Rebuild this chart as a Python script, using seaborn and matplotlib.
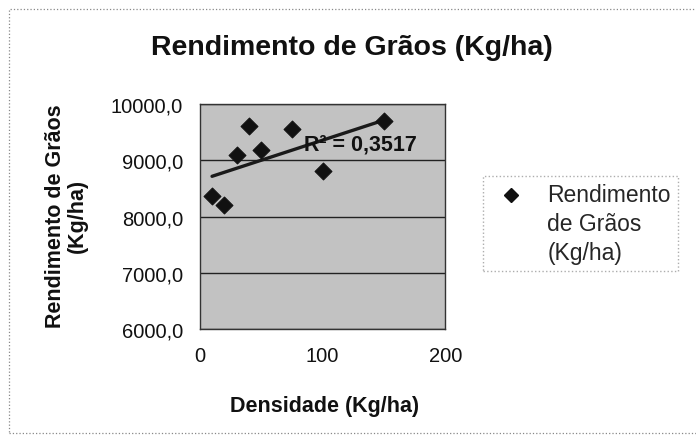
import numpy as np
import matplotlib
matplotlib.use("Agg")
import matplotlib.pyplot as plt
import seaborn as sns
from matplotlib.ticker import FuncFormatter
from matplotlib.lines import Line2D
from matplotlib.legend_handler import HandlerLine2D

sns.set_style("white")
plt.rcParams['font.family'] = ['Liberation Sans', 'DejaVu Sans']

# data
densidade = [10, 20, 30, 40, 50, 75, 100, 150]
rendimento = [8370, 8210, 9100, 9600, 9190, 9560, 8800, 9700]
r2_label = "R² = 0,3517"
serie = "Rendimento\nde Grãos\n(Kg/ha)"

fig = plt.figure(figsize=(6.96, 4.39), dpi=100)
ax = fig.add_axes([0.287, 0.248, 0.353, 0.513])
ax.set_facecolor("#c2c2c2")

# trend line (least squares)
coef = np.polyfit(densidade, rendimento, 1)
xs = np.array([min(densidade), max(densidade)])
ax.plot(xs, np.polyval(coef, xs), color="#1a1a1a", lw=2.4, zorder=3)

sns.scatterplot(x=densidade, y=rendimento, marker="D", s=75, color="#111111",
                edgecolor="#111111", ax=ax, zorder=4, legend=False)

ax.set_xlim(0, 200)
ax.set_ylim(6000, 10000)
ax.set_xticks([0, 100, 200])
ax.set_yticks([6000, 7000, 8000, 9000, 10000])
ax.yaxis.set_major_formatter(FuncFormatter(lambda v, p: f"{v:.1f}".replace(".", ",")))
ax.grid(axis="y", color="#222222", lw=1)
ax.set_axisbelow(True)
for s in ax.spines.values():
    s.set_color("#333333")
    s.set_linewidth(1)
ax.tick_params(labelsize=14.5, colors="#111111", length=0)
ax.tick_params(axis="y", pad=12)
ax.tick_params(axis="x", pad=12)

ax.text(85, 9290, r2_label, fontsize=15.5, fontweight="bold", color="#111111",
        va="center", ha="left", zorder=5)

fig.text(0.466, 0.073, "Densidade (Kg/ha)", fontsize=15.5, fontweight="bold",
         ha="center", va="center", color="#111111")
fig.text(0.096, 0.508, "Rendimento de Grãos\n(Kg/ha)", fontsize=15.5, fontweight="bold",
         rotation=90, ha="center", va="center", multialignment="center",
         linespacing=1.05, color="#111111")
fig.text(0.506, 0.89, "Rendimento de Grãos (Kg/ha)", fontsize=20.5, fontweight="bold",
         ha="center", va="center", color="#111111")


# legend marker sits next to the first line of the label
class TopMarker(HandlerLine2D):
    def create_artists(self, legend, orig_handle, xdescent, ydescent,
                       width, height, fontsize, trans):
        arts = super().create_artists(legend, orig_handle, xdescent, ydescent,
                                      width, height, fontsize, trans)
        for a in arts:
            a.set_ydata(np.asarray(a.get_ydata()) + fontsize * 1.3)
        return arts


handle = Line2D([], [], marker="D", ls="none", color="#111111", markersize=7.5)
leg = ax.legend([handle], [serie], loc="upper left",
                bbox_to_anchor=(483 / 696, 1 - 177 / 439),
                bbox_transform=fig.transFigure, borderaxespad=0, frameon=True,
                fontsize=16.5, handletextpad=0.7, borderpad=0.3, handlelength=1.8,
                handler_map={Line2D: TopMarker()})
leg.get_texts()[0].set_linespacing(1.35)
leg.get_frame().set_edgecolor("#999999")
leg.get_frame().set_linestyle(":")
leg.get_frame().set_boxstyle("square", pad=0)

# dotted border (left and top visible in the scan)
border = plt.Rectangle((9 / 696, 5 / 439), 1.05, 1 - 15 / 439, transform=fig.transFigure,
                       fill=False, ec="#888888", lw=0.9, ls=":")
fig.patches.append(border)

fig.savefig("out.png", dpi=100)
